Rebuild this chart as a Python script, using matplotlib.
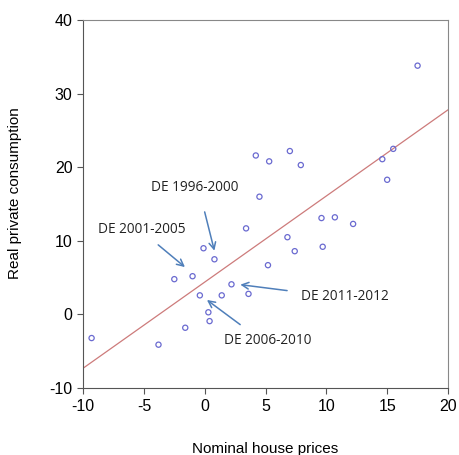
import numpy as np
import matplotlib.pyplot as plt

plt.rcParams['font.family'] = 'Liberation Sans'
plt.rcParams['axes.unicode_minus'] = False

# nominal house prices (x) vs real private consumption (y)
house_prices = [-9.3, -3.8, -1.6, -2.5, -1.0, -0.1, 0.8, -0.4, 0.3, 0.4,
                1.4, 2.2, 3.6, 3.4, 4.2, 4.5, 5.3, 5.2, 6.8, 7.0,
                7.4, 7.9, 9.6, 9.7, 10.7, 12.2, 14.6, 15.0, 15.5, 17.5]
consumption = [-3.2, -4.1, -1.8, 4.8, 5.2, 9.0, 7.5, 2.6, 0.3, -0.9,
               2.6, 4.1, 2.8, 11.7, 21.6, 16.0, 20.8, 6.7, 10.5, 22.2,
               8.6, 20.3, 13.1, 9.2, 13.2, 12.3, 21.1, 18.3, 22.5, 33.8]

# fitted line
fit_x = [-10, 20]
fit_y = [-7.3, 27.8]

# annotations: label, text pos, arrow start, arrow end
labels = ['DE 1996-2000', 'DE 2001-2005', 'DE 2011-2012', 'DE 2006-2010']
text_pos = [(-0.8, 17.2), (-5.2, 11.6), (11.5, 2.5), (5.2, -3.6)]
arrow_from = [(-0.06, 14.3), (-4.0, 9.7), (7.0, 3.2), (3.1, -1.6)]
arrow_to = [(0.85, 8.3), (-1.45, 6.2), (2.7, 4.1), (0.0, 2.2)]

fig = plt.figure(figsize=(4.59, 4.55), dpi=100)
ax = fig.add_axes([0.181, 0.147, 0.795, 0.809])

ax.plot(fit_x, fit_y, color='#cd7b7b', lw=0.9, zorder=2)
ax.scatter(house_prices, consumption, s=14, facecolors='none',
           edgecolors='#6a6ad0', linewidths=0.9, zorder=3)

for lab, tp, af, at in zip(labels, text_pos, arrow_from, arrow_to):
    ax.text(tp[0], tp[1], lab, ha='center', va='center', fontsize=9.8,
            family='Open Sans', color='#222222')
    ax.annotate('', xy=at, xytext=af,
                arrowprops=dict(arrowstyle='->', color='#4f7fba', lw=1.1,
                                mutation_scale=12))

ax.set_xlim(-10, 20)
ax.set_ylim(-10, 40)
ax.set_xticks([-10, -5, 0, 5, 10, 15, 20])
ax.set_yticks([-10, 0, 10, 20, 30, 40])
ax.tick_params(direction='out', labelsize=11.5, length=4, width=0.8,
               color='#555555')
for side in ['top', 'right']:
    ax.spines[side].set_color('#888888')
for side in ['left', 'bottom']:
    ax.spines[side].set_color('#555555')
fig.text(0.033, 0.576, 'Real private consumption', ha='center', va='center',
         rotation=90, fontsize=11)
fig.text(0.578, 0.004, 'Nominal house prices', ha='center', va='baseline',
         fontsize=11)

fig.savefig('out.png', dpi=100)
